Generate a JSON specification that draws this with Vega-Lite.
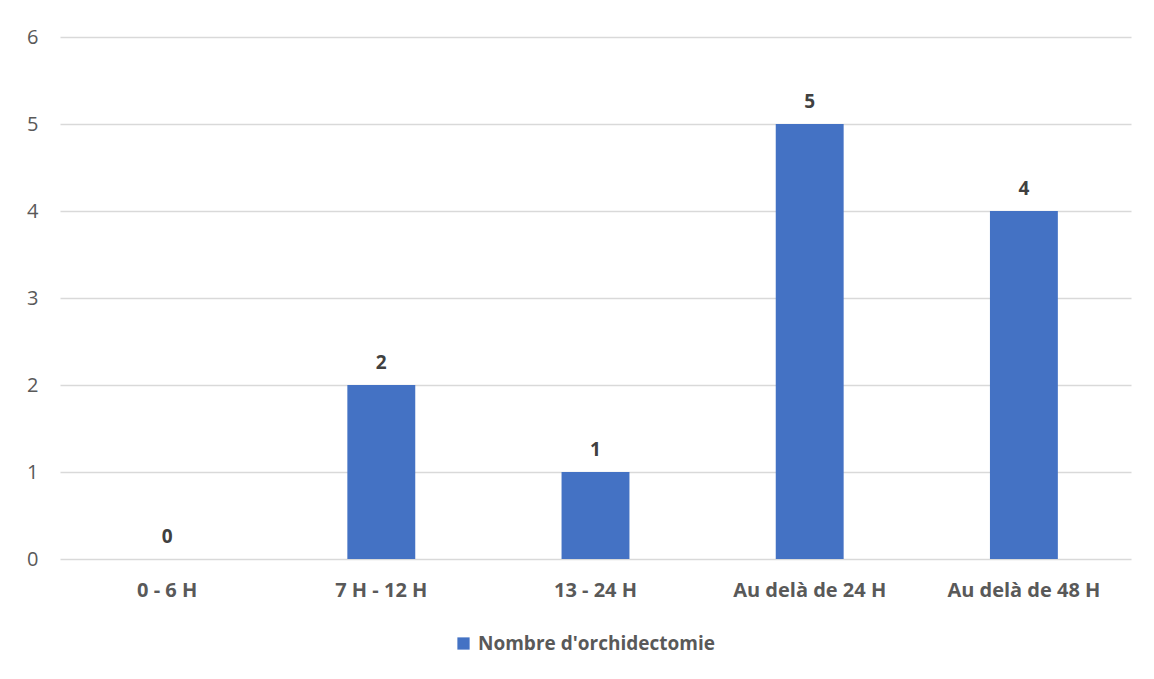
{
  "$schema": "https://vega.github.io/schema/vega-lite/v6.json",
  "width": 1071,
  "height": 522,
  "autosize": "none",
  "padding": {"left": 60, "top": 37, "right": 23, "bottom": 120},
  "background": "white",
  "config": {
    "font": "Open Sans",
    "view": {"stroke": null}
  },
  "data": {
    "values": [
      {"cat": "0 - 6 H", "n": 0, "serie": "Nombre d'orchidectomie"},
      {"cat": "7 H - 12 H", "n": 2, "serie": "Nombre d'orchidectomie"},
      {"cat": "13 - 24 H", "n": 1, "serie": "Nombre d'orchidectomie"},
      {"cat": "Au delà de 24 H", "n": 5, "serie": "Nombre d'orchidectomie"},
      {"cat": "Au delà de 48 H", "n": 4, "serie": "Nombre d'orchidectomie"}
    ]
  },
  "encoding": {
    "x": {
      "field": "cat",
      "type": "nominal",
      "sort": null,
      "scale": {"paddingInner": 0, "paddingOuter": 0},
      "axis": {
        "title": null,
        "labelAngle": 0,
        "domain": false,
        "ticks": false,
        "labelFont": "Open Sans",
        "labelFontSize": 20,
        "labelFontWeight": "bold",
        "labelColor": "#595959",
        "labelPadding": 21,
        "labelLimit": 0
      }
    },
    "y": {
      "field": "n",
      "type": "quantitative",
      "scale": {"domain": [0, 6]},
      "axis": {
        "title": null,
        "values": [0, 1, 2, 3, 4, 5, 6],
        "domain": false,
        "ticks": false,
        "grid": true,
        "gridColor": "#d9d9d9",
        "gridWidth": 1.5,
        "labelFont": "Open Sans",
        "labelFontSize": 20,
        "labelColor": "#595959",
        "labelPadding": 22
      }
    }
  },
  "layer": [
    {
      "mark": {"type": "bar", "width": {"band": 0.317}},
      "encoding": {
        "color": {
          "field": "serie",
          "type": "nominal",
          "scale": {"range": ["#4472C4"]},
          "legend": {
            "title": null,
            "orient": "none",
            "legendX": 394,
            "legendY": 597,
            "symbolType": "square",
            "symbolSize": 150,
            "symbolStrokeWidth": 0,
            "labelFont": "Open Sans",
            "labelFontSize": 19,
            "labelFontWeight": "bold",
            "labelColor": "#595959",
            "labelOffset": 5,
            "labelLimit": 0
          }
        }
      }
    },
    {
      "mark": {
        "type": "text",
        "baseline": "bottom",
        "dy": -12,
        "fontSize": 19,
        "fontWeight": "bold",
        "color": "#404040",
        "font": "Open Sans"
      },
      "encoding": {
        "text": {"field": "n", "type": "quantitative"}
      }
    }
  ]
}
